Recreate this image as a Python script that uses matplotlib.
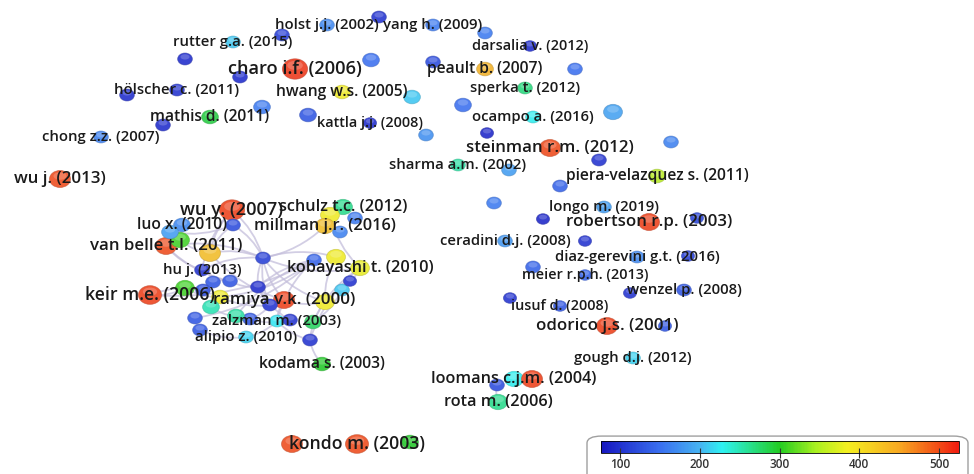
import numpy as np
import matplotlib
matplotlib.use('Agg')
import matplotlib.pyplot as plt
from matplotlib.patches import Ellipse, FancyArrowPatch, FancyBboxPatch
from matplotlib import cm, colors

# node labels ('' = unlabeled), layout position, avg. citations (colour) and link weight (size)
labels = [
    'holst j.j. (2002)', '', 'yang h. (2009)', '', 'rutter g.a. (2015)', '',
    'darsalia v. (2012)', 'charo i.f. (2006)', '', '', '', 'peault b. (2007)',
    '', '', 'sperka t. (2012)', 'hölscher c. (2011)', '', 'hwang w.s. (2005)',
    '', 'mathis d. (2011)', '', '', 'kattla j.j. (2008)', '', 'ocampo a. (2016)',
    '', '', 'chong z.z. (2007)', '', '', 'steinman r.m. (2012)', '',
    'sharma a.m. (2002)', '', '', 'wu j. (2013)', 'piera-velazquez s. (2011)', '',
    'longo m. (2019)', '', 'robertson r.p. (2003)', '', '', 'wu y. (2007)',
    'schulz t.c. (2012)', '', '', 'luo x. (2010)', '', 'millman j.r. (2016)', '',
    'van belle t.l. (2011)', '', '', '', 'ceradini d.j. (2008)', '', 'hu j. (2013)',
    'kobayashi t. (2010)', '', 'diaz-gerevini g.t. (2016)', '', '', 'meier r.p.h. (2013)',
    'keir m.e. (2006)', '', 'ramiya v.k. (2000)', '', '', 'wenzel p. (2008)', '',
    'iusuf d. (2008)', '', 'zalzman m. (2003)', 'odorico j.s. (2001)', '',
    'alipio z. (2010)', '', 'gough d.j. (2012)', 'kodama s. (2003)',
    'loomans c.j.m. (2004)', '', '', 'rota m. (2006)', 'kondo m. (2003)', '', '',
    '', '', '', '', '', '', '', '', '', '', '', '', '', '', '', '',
]
node_x = [
    327, 379, 433, 485, 233, 282, 530, 295, 371, 240, 185, 485, 433, 575, 525,
    177, 127, 342, 412, 210, 262, 163, 370, 308, 533, 463, 613, 101, 426, 487,
    550, 671, 458, 509, 599, 60, 657, 560, 604, 494, 649, 697, 543, 232, 343,
    330, 355, 182, 233, 325, 340, 166, 210, 180, 170, 505, 585, 202, 360, 336,
    637, 688, 533, 585, 150, 185, 284, 314, 325, 684, 630, 560, 510, 277, 607,
    665, 246, 310, 633, 322, 514, 497, 532, 498, 357, 292, 410,
    263, 258, 230, 213, 203, 250, 195, 200, 236, 270, 313, 342, 350, 220, 211, 290,
]
node_y = [
    25, 17, 25, 33, 42, 35, 46, 69, 60, 77, 59, 69, 62, 69, 88,
    90, 95, 92, 97, 117, 107, 125, 123, 115, 117, 105, 112, 137, 135, 133,
    148, 142, 165, 170, 160, 179, 176, 186, 207, 203, 222, 218, 219, 210, 207,
    215, 218, 225, 225, 226, 232, 246, 253, 240, 232, 241, 241, 270, 268, 257,
    257, 256, 267, 275, 295, 288, 300, 260, 302, 290, 293, 306, 298, 321, 326,
    326, 337, 340, 358, 364, 379, 385, 379, 402, 444, 444, 442,
    258, 287, 281, 282, 290, 319, 318, 330, 316, 305, 322, 290, 281, 297, 307, 320,
]
citations = [
    170, 100, 160, 160, 210, 110, 95, 510, 150, 95, 95, 440, 120, 150, 270,
    100, 95, 385, 210, 290, 160, 95, 95, 130, 230, 150, 190, 165, 175, 90,
    500, 165, 255, 185, 100, 500, 355, 140, 185, 160, 505, 115, 90, 505, 265,
    385, 160, 170, 120, 430, 165, 500, 430, 310, 185, 180, 100, 100, 380, 385,
    170, 110, 140, 140, 505, 310, 505, 140, 385, 130, 100, 130, 100, 225, 505,
    130, 215, 100, 215, 300, 230, 120, 505, 265, 500, 500, 300,
    110, 95, 130, 130, 120, 130, 130, 130, 255, 100, 280, 210, 100, 385, 250, 100,
]
weight = [
    24, 24, 24, 24, 24, 24, 18, 64, 32, 24, 24, 32, 24, 24, 24,
    24, 24, 32, 32, 32, 32, 24, 18, 32, 24, 32, 40, 24, 24, 18,
    48, 24, 24, 24, 24, 48, 32, 24, 24, 24, 48, 18, 18, 64, 40,
    40, 24, 32, 24, 40, 24, 48, 48, 40, 32, 24, 18, 24, 40, 40,
    24, 18, 24, 18, 56, 40, 48, 24, 40, 24, 18, 18, 18, 24, 48,
    18, 24, 24, 24, 32, 40, 24, 48, 40, 56, 48, 32,
    24, 24, 24, 24, 24, 24, 24, 24, 32, 24, 32, 24, 18, 32, 32, 24,
]
# citation links (node index pairs)
links = [
    (87, 43), (87, 49), (87, 52), (87, 51), (87, 66), (87, 96), (87, 88), (87, 68),
    (87, 58), (87, 57), (87, 48), (48, 52), (43, 52), (51, 57), (52, 66), (67, 88),
    (88, 96), (96, 66), (66, 73), (73, 77), (77, 79), (68, 77), (58, 77), (66, 68),
    (49, 45), (45, 58), (57, 89), (89, 90), (90, 91), (91, 64), (64, 65), (65, 100),
    (100, 67), (67, 95), (95, 92), (92, 102), (102, 73), (93, 94), (93, 67), (94, 76),
    (76, 73), (101, 95), (97, 98), (98, 99), (99, 58), (58, 97), (53, 52), (54, 48),
    (89, 88), (92, 96), (64, 67), (100, 96), (43, 57), (51, 89), (67, 73), (59, 87),
    (59, 68), (88, 102), (81, 83), (80, 82),
]

# colour scale as in the legend bar (blue -> cyan -> green -> yellow -> red)
scale_vals = [76, 150, 200, 228, 300, 345, 385, 450, 525]
scale_cols = ['#1616c0', '#3a70f0', '#46b4f2', '#2ef2f2', '#22cc22',
              '#a8f020', '#f4f020', '#f8aa22', '#f01c10']
cmap = colors.LinearSegmentedColormap.from_list(
    'vos', [((v - 76) / (525 - 76), c) for v, c in zip(scale_vals, scale_cols)])
norm = colors.Normalize(vmin=76, vmax=525)

fig = plt.figure(figsize=(9.74, 4.74), dpi=100)
ax = fig.add_axes([0, 0, 1, 1])
ax.set_xlim(0, 974)
ax.set_ylim(474, 0)
ax.axis('off')

for a, b in links:
    p = FancyArrowPatch((node_x[a], node_y[a]), (node_x[b], node_y[b]),
                        arrowstyle='-', connectionstyle='arc3,rad=0.15',
                        color='#c4bedb', lw=1.3, alpha=0.75, zorder=1)
    ax.add_patch(p)

for i in range(len(node_x)):
    r = 4 + weight[i] / 8
    c = np.array(cmap(norm(citations[i])))
    c[:3] = c[:3] * 0.85 + 0.15 * np.array([0.85, 0.85, 0.95])
    ax.add_patch(Ellipse((node_x[i], node_y[i]), 2.1 * r, 1.7 * r,
                         facecolor=c, edgecolor=(c[0] * 0.8, c[1] * 0.8, c[2] * 0.8, 0.6),
                         lw=0.6, zorder=2))
    ax.add_patch(Ellipse((node_x[i], node_y[i] - 0.3 * r), 1.3 * r, 0.75 * r,
                         facecolor='white', alpha=0.2, lw=0, zorder=2))

for i in range(len(node_x)):
    if labels[i]:
        ax.text(node_x[i], node_y[i], labels[i], fontsize=1.22 * (7.6 + weight[i] / 20),
                family='Open Sans', weight='semibold', color='#1a1a1a',
                ha='center', va='center', zorder=3)

# colour scale box
fig.patches.append(FancyBboxPatch((587 / 974, -0.05), 381 / 974, 0.13,
                                  boxstyle='round,pad=0,rounding_size=0.015',
                                  transform=fig.transFigure, facecolor='none',
                                  edgecolor='#a0a0a0', lw=1, zorder=-1))
cax = fig.add_axes([601 / 974, 21 / 474, 358 / 974, 12 / 474])
cb = fig.colorbar(cm.ScalarMappable(norm=norm, cmap=cmap), cax=cax, orientation='horizontal')
cb.set_ticks([100, 200, 300, 400, 500])
cb.outline.set_linewidth(0.6)
cax.tick_params(labelsize=8.5, length=7, width=0.8, direction='inout', pad=0,
                colors='#333333')
for t in cax.get_xticklabels():
    t.set_family('Open Sans')
    t.set_weight('semibold')

plt.savefig('out.png', dpi=100)
plt.close()
